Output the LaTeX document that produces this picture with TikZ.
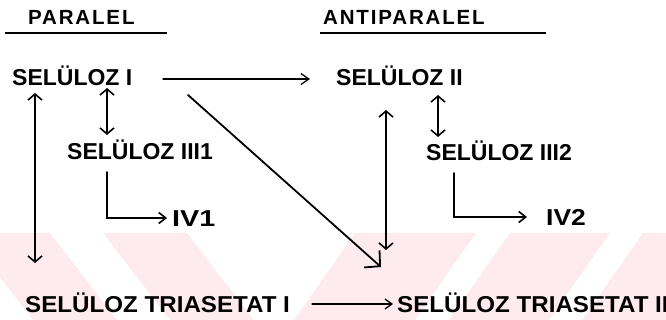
\documentclass[tikz,border=0pt]{standalone}
\usepackage{fontspec}
\setmainfont{Liberation Sans}
\newfontfamily\hdfont[LetterSpace=9]{Liberation Sans}
\usetikzlibrary{arrows.meta}
\definecolor{wm}{RGB}{253,235,239}
\begin{document}
\begin{tikzpicture}[x=1pt,y=-1pt,
  lab/.style={anchor=base west,inner sep=0pt,font=\fontsize{23}{23}\selectfont\bfseries},
  hd/.style={anchor=base west,inner sep=0pt,font=\hdfont\fontsize{20.5}{21}\selectfont\bfseries},
  conn/.style={line width=1.6pt,line cap=round},
  dbl/.style={conn,{Straight Barb[length=6pt,width=14pt]}-{Straight Barb[length=6pt,width=14pt]}},
  sarr/.style={conn,-{Straight Barb[length=7pt,width=11pt]}},
  diag/.style={conn,line width=1.8pt,-{Straight Barb[length=11pt,width=23pt]}},
  uline/.style={line width=1.4pt}]
\useasboundingbox (0,0) rectangle (666,320);
% faint watermark stripes
\begin{scope}
\clip (0,0) rectangle (666,320);
\fill[wm] (-34,233) -- (50,233) -- (117,320) -- (33,320) -- cycle;
\fill[wm] (103,233) -- (187,233) -- (254,320) -- (170,320) -- cycle;
\fill[wm] (355,233) -- (476,233) -- (415,320) -- (294,320) -- cycle;
\fill[wm] (510,233) -- (610,233) -- (549,320) -- (449,320) -- cycle;
\fill[wm] (643,233) -- (743,233) -- (682,320) -- (582,320) -- cycle;
\end{scope}
% headers
\node[hd] (par) at (28,25) {PARALEL};
\node[hd] (anti) at (323,25) {ANTIPARALEL};
\coordinate (pu1) at (5,33);
\coordinate (pu2) at (167,33);
\coordinate (au1) at (320,33);
\coordinate (au2) at (546,33);
\draw[uline] (pu1) -- (pu2);
\draw[uline] (au1) -- (au2);
% labels
\node[lab] (s1) at (12,86) {SELÜLOZ I};
\node[lab] (s2) at (336,86) {SELÜLOZ II};
\node[lab] (s31) at (67,160) {SELÜLOZ III1};
\node[lab] (s32) at (426,161) {SELÜLOZ III2};
\node[lab] (iv1) at (172,227) {\scalebox{1.25}[1]{IV1}};
\node[lab] (iv2) at (546,226) {\scalebox{1.15}[1]{IV2}};
\node[lab] (t1) at (25,312) {\scalebox{1.05}[1]{SELÜLOZ TRIASETAT I}};
\node[lab] (t2) at (397,312) {\scalebox{1.05}[1]{SELÜLOZ TRIASETAT II}};
% connector end points
\coordinate (h1a) at (163,79);
\coordinate (h1b) at (310,79);
\coordinate (d1a) at (188,95);
\coordinate (d1b) at (381,267);
\coordinate (v1a) at (35,93);
\coordinate (v1b) at (35,263);
\coordinate (v2a) at (107,88);
\coordinate (v2b) at (107,135);
\coordinate (l1a) at (107,172);
\coordinate (l1c) at (107,218);
\coordinate (l1b) at (167,218);
\coordinate (v3a) at (386,110);
\coordinate (v3b) at (386,250);
\coordinate (v4a) at (438,95);
\coordinate (v4b) at (438,137);
\coordinate (l2a) at (454,173);
\coordinate (l2c) at (454,217);
\coordinate (l2b) at (527,217);
\coordinate (h2a) at (312,304);
\coordinate (h2b) at (393,304);
% connectors
\draw[conn,line width=1.3pt,-{Straight Barb[length=8pt,width=11pt]}] (h1a) -- (h1b);
\draw[diag] (d1a) -- (d1b);
\draw[dbl] (v1a) -- (v1b);
\draw[dbl] (v2a) -- (v2b);
\draw[sarr] (l1a) -- (l1c) -- (l1b);
\draw[dbl] (v3a) -- (v3b);
\draw[dbl] (v4a) -- (v4b);
\draw[sarr] (l2a) -- (l2c) -- (l2b);
\draw[conn,line width=1.3pt,-{Straight Barb[length=7pt,width=10pt]}] (h2a) -- (h2b);
\end{tikzpicture}
\end{document}
